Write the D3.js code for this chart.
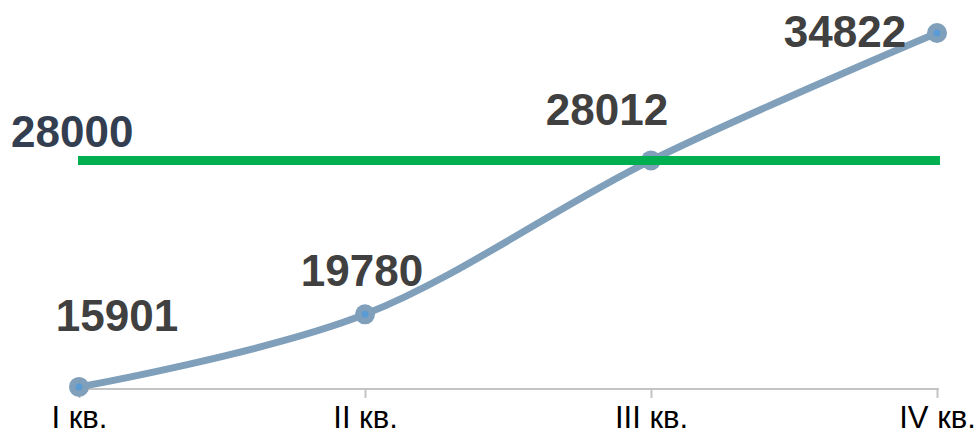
<!DOCTYPE html>
<html>
<head>
<meta charset="utf-8">
<script src="https://cdn.jsdelivr.net/npm/d3@7"></script>
<style>
  body { margin: 0; background: #fff; }
  svg { display: block; font-family: Arial, "Liberation Sans", sans-serif; }
</style>
</head>
<body>
<div id="chart"></div>
<script>
const quarters = ['I кв.', 'II кв.', 'III кв.', 'IV кв.'];
const values = [15901, 19780, 28012, 34822];
const target = 28000;

// label offsets from each point (dx, dy to baseline)
const labelShift = [[38, -56], [-3, -28], [-44, -35], [-92, 14]];

const width = 979;
const height = 434;

const svg = d3.select('#chart')
  .append('svg')
  .attr('width', width)
  .attr('height', height);

const xScale = d3.scalePoint()
  .domain(quarters)
  .range([79, 937]);

const yScale = d3.scaleLinear()
  .domain([15790, 34822])
  .range([389, 33]);

// x axis
const axis = svg.append('g')
  .attr('transform', `translate(0, ${yScale(15790)})`)
  .call(d3.axisBottom(xScale).tickSize(9).tickPadding(8).tickSizeOuter(0));

axis.select('.domain')
  .attr('d', 'M70,0H939')
  .attr('stroke', '#c4c4c4')
  .attr('stroke-width', 2);

axis.selectAll('.tick line')
  .attr('stroke', '#c4c4c4')
  .attr('stroke-width', 2);

axis.selectAll('.tick text')
  .attr('fill', '#000')
  .attr('font-size', 31)
  .attr('font-family', 'Arial, "Liberation Sans", sans-serif')
  .attr('dy', '0.71em');

// data line
const line = d3.line()
  .x((d, i) => xScale(quarters[i]))
  .y((d) => yScale(d))
  .curve(d3.curveCardinal.tension(0));

svg.append('path')
  .datum(values)
  .attr('d', line)
  .attr('fill', 'none')
  .attr('stroke', '#7f9fba')
  .attr('stroke-width', 7)
  .attr('stroke-linecap', 'round');

const points = svg.append('g');
points.selectAll('circle.outer')
  .data(values)
  .join('circle')
  .attr('class', 'outer')
  .attr('cx', (d, i) => xScale(quarters[i]))
  .attr('cy', (d) => yScale(d))
  .attr('r', 10)
  .attr('fill', '#7f9fba');

points.selectAll('circle.inner')
  .data(values)
  .join('circle')
  .attr('class', 'inner')
  .attr('cx', (d, i) => xScale(quarters[i]))
  .attr('cy', (d) => yScale(d))
  .attr('r', 3.5)
  .attr('fill', '#5b9bd5');

// target line
svg.append('line')
  .attr('x1', 78)
  .attr('x2', 940)
  .attr('y1', yScale(target))
  .attr('y2', yScale(target))
  .attr('stroke', '#00b050')
  .attr('stroke-width', 9);

svg.append('text')
  .attr('x', 11)
  .attr('y', yScale(target) - 14)
  .attr('font-size', 44)
  .attr('font-weight', 'bold')
  .attr('fill', '#333f50')
  .text(target);

// data labels
svg.append('g')
  .selectAll('text')
  .data(values)
  .join('text')
  .attr('x', (d, i) => xScale(quarters[i]) + labelShift[i][0])
  .attr('y', (d, i) => yScale(d) + labelShift[i][1])
  .attr('text-anchor', 'middle')
  .attr('font-size', 44)
  .attr('font-weight', 'bold')
  .attr('fill', '#404040')
  .text((d) => d);
</script>
</body>
</html>
